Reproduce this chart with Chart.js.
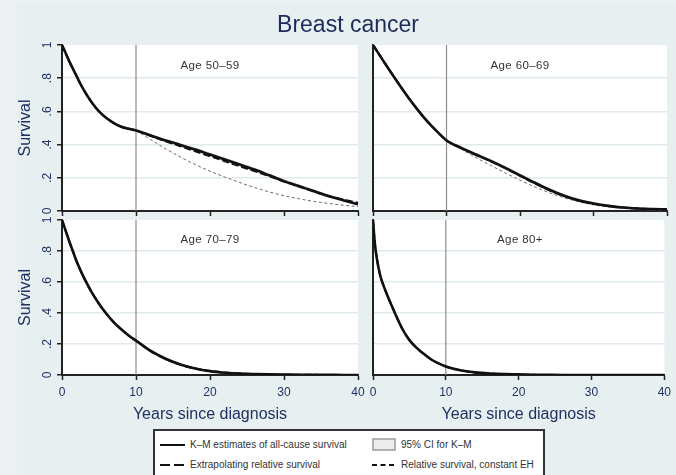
<!DOCTYPE html>
<html><head><meta charset="utf-8">
<script src="https://cdn.jsdelivr.net/npm/chart.js@4.4.1/dist/chart.umd.min.js"></script>
<style>
html,body{margin:0;padding:0;}
body{width:676px;height:475px;overflow:hidden;background:#eef1f2;position:relative;font-family:"Liberation Sans",Arial,sans-serif;}
#region{position:absolute;left:17px;top:3px;width:659px;height:472px;background:#e8eff1;}
canvas.panel{position:absolute;left:0;top:0;}
.txt{position:absolute;white-space:nowrap;z-index:5;}
#title{left:248px;width:200px;text-align:center;top:13px;font-size:23px;line-height:23px;color:#1c2b5a;}
.plab{width:120px;text-align:center;font-size:11.5px;line-height:12px;letter-spacing:0.4px;color:#333;}
#legend{position:absolute;left:153px;top:429px;width:388px;height:50px;border:2px solid #333;background:#fff;z-index:5;}
.lt{position:absolute;font-size:10px;line-height:12px;color:#333;white-space:nowrap;}
.ls{position:absolute;}
</style></head>
<body>
<div id="region"></div>
<canvas class="panel" id="p1" width="676" height="475"></canvas>
<canvas class="panel" id="p2" width="676" height="475"></canvas>
<canvas class="panel" id="p3" width="676" height="475"></canvas>
<canvas class="panel" id="p4" width="676" height="475"></canvas>
<div class="txt" id="title">Breast cancer</div>
<div class="txt plab" style="left:150px;top:59px" id="lab1"></div>
<div class="txt plab" style="left:460px;top:59px" id="lab2"></div>
<div class="txt plab" style="left:150px;top:233px" id="lab3"></div>
<div class="txt plab" style="left:460px;top:233px" id="lab4"></div>
<div id="legend">
  <svg class="ls" style="left:5px;top:8px" width="27" height="12"><line x1="0" y1="6" x2="25" y2="6" stroke="#111" stroke-width="2"/></svg>
  <div class="lt" style="left:35px;top:8px" id="lg1"></div>
  <svg class="ls" style="left:217px;top:7px" width="26" height="14"><rect x="1" y="1" width="22" height="11" fill="#ececec" stroke="#9a9a9a" stroke-width="1.5"/></svg>
  <div class="lt" style="left:246px;top:8px" id="lg2"></div>
  <svg class="ls" style="left:5px;top:28px" width="27" height="12"><line x1="0" y1="6" x2="25" y2="6" stroke="#111" stroke-width="2" stroke-dasharray="10,4"/></svg>
  <div class="lt" style="left:35px;top:28px" id="lg3"></div>
  <svg class="ls" style="left:217px;top:28px" width="26" height="12"><line x1="0" y1="6" x2="24" y2="6" stroke="#111" stroke-width="2" stroke-dasharray="5,3.5"/></svg>
  <div class="lt" style="left:246px;top:28px" id="lg4"></div>
</div>
<script>
// ---------- data ----------
const tYears = [0,0.25,0.5,1,1.5,2,2.5,3,4,5,6,7,8,9,10,12,14,16,18,20,22,24,26,28,30,32,34,36,38,40];
const panelTitles = ['Age 50\u201359','Age 60\u201369','Age 70\u201379','Age 80+'];
const legendLabels = ['K\u2013M estimates of all-cause survival','95% CI for K\u2013M','Extrapolating relative survival','Relative survival, constant EH'];
const xTickValues = [0,10,20,30,40];
const yTickValues = [0,0.2,0.4,0.6,0.8,1];
const yTickLabels = ['0','.2','.4','.6','.8','1'];
const cutoffYear = 10;

// Age 50-59
const km5059     = [1,0.975,0.95,0.90,0.855,0.81,0.765,0.725,0.655,0.60,0.56,0.53,0.508,0.495,0.485,0.455,0.425,0.398,0.37,0.34,0.31,0.28,0.25,0.215,0.18,0.15,0.12,0.09,0.065,0.04];
const ciLo5059   = [1,0.972,0.946,0.895,0.85,0.805,0.76,0.72,0.65,0.595,0.555,0.525,0.503,0.49,0.48,0.45,0.419,0.391,0.362,0.332,0.302,0.272,0.242,0.207,0.172,0.142,0.112,0.083,0.058,0.034];
const ciHi5059   = [1,0.978,0.954,0.905,0.86,0.815,0.77,0.73,0.66,0.605,0.565,0.535,0.513,0.5,0.49,0.46,0.431,0.405,0.378,0.348,0.318,0.288,0.258,0.223,0.188,0.158,0.128,0.097,0.072,0.046];
const extrap5059 = [1,0.975,0.95,0.90,0.855,0.81,0.765,0.725,0.655,0.60,0.56,0.53,0.508,0.495,0.485,0.452,0.42,0.39,0.36,0.33,0.30,0.27,0.24,0.21,0.178,0.148,0.118,0.09,0.068,0.05];
const constEH5059= [null,null,null,null,null,null,null,null,null,null,null,null,null,null,0.485,0.43,0.375,0.325,0.28,0.24,0.205,0.172,0.142,0.115,0.092,0.074,0.058,0.046,0.035,0.026];
// Age 60-69
const km6069     = [1,0.983,0.966,0.932,0.898,0.864,0.831,0.798,0.734,0.672,0.614,0.56,0.511,0.466,0.425,0.38,0.34,0.302,0.26,0.215,0.17,0.128,0.092,0.064,0.045,0.031,0.021,0.015,0.012,0.01];
const ciLo6069   = [1,0.98,0.962,0.927,0.893,0.859,0.825,0.792,0.728,0.666,0.608,0.554,0.505,0.46,0.419,0.373,0.332,0.294,0.252,0.207,0.162,0.121,0.085,0.058,0.04,0.026,0.017,0.011,0.008,0.006];
const ciHi6069   = [1,0.986,0.97,0.937,0.903,0.869,0.837,0.804,0.74,0.678,0.62,0.566,0.517,0.472,0.431,0.387,0.348,0.31,0.268,0.223,0.178,0.135,0.099,0.07,0.05,0.036,0.025,0.019,0.016,0.014];
const extrap6069 = [1,0.983,0.966,0.932,0.898,0.864,0.831,0.798,0.734,0.672,0.614,0.56,0.511,0.466,0.425,0.379,0.339,0.3,0.258,0.212,0.167,0.125,0.09,0.063,0.044,0.03,0.021,0.015,0.011,0.008];
const constEH6069= [null,null,null,null,null,null,null,null,null,null,null,null,null,null,0.425,0.372,0.322,0.275,0.229,0.186,0.145,0.11,0.08,0.056,0.037,0.025,0.016,0.01,0.006,0.004];
// Age 70-79
const km7079     = [1,0.965,0.93,0.86,0.795,0.73,0.675,0.625,0.535,0.46,0.395,0.34,0.295,0.255,0.222,0.155,0.105,0.068,0.042,0.025,0.015,0.009,0.006,0.004,0.003,0.002,0.001,0.001,0,0];
const ciLo7079   = [1,0.962,0.926,0.855,0.79,0.725,0.67,0.62,0.53,0.455,0.39,0.335,0.29,0.25,0.217,0.15,0.1,0.064,0.039,0.022,0.012,0.007,0.004,0.002,0.001,0.001,0,0,0,0];
const ciHi7079   = [1,0.968,0.934,0.865,0.8,0.735,0.68,0.63,0.54,0.465,0.4,0.345,0.3,0.26,0.227,0.16,0.11,0.072,0.045,0.028,0.018,0.011,0.008,0.006,0.005,0.003,0.002,0.002,0.001,0.001];
const extrap7079 = [1,0.965,0.93,0.86,0.795,0.73,0.675,0.625,0.535,0.46,0.395,0.34,0.295,0.255,0.222,0.153,0.103,0.067,0.042,0.026,0.016,0.01,0.006,0.004,0.002,0.001,0.001,0,0,0];
const constEH7079= [null,null,null,null,null,null,null,null,null,null,null,null,null,null,0.222,0.15,0.098,0.062,0.038,0.023,0.013,0.008,0.004,0.002,0.001,0.001,0,0,0,0];
// Age 80+
const km80       = [1,0.85,0.76,0.64,0.57,0.51,0.455,0.40,0.30,0.225,0.175,0.135,0.10,0.075,0.055,0.03,0.017,0.01,0.006,0.004,0.002,0.001,0,0,0,0,0,0,0,0];
const ciLo80     = [1,0.845,0.755,0.635,0.565,0.505,0.45,0.395,0.295,0.22,0.17,0.13,0.096,0.071,0.052,0.027,0.015,0.008,0.004,0.002,0.001,0,0,0,0,0,0,0,0,0];
const ciHi80     = [1,0.855,0.765,0.645,0.575,0.515,0.46,0.405,0.305,0.23,0.18,0.14,0.104,0.079,0.058,0.033,0.019,0.012,0.008,0.006,0.003,0.002,0.001,0.001,0,0,0,0,0,0];
const extrap80   = [1,0.85,0.76,0.64,0.57,0.51,0.455,0.40,0.30,0.225,0.175,0.135,0.10,0.075,0.055,0.03,0.016,0.009,0.005,0.003,0.001,0,0,0,0,0,0,0,0,0];
const constEH80  = [null,null,null,null,null,null,null,null,null,null,null,null,null,null,0.055,0.029,0.015,0.008,0.004,0.002,0.001,0,0,0,0,0,0,0,0,0];

// ---------- text ----------
document.getElementById('lab1').textContent = panelTitles[0];
document.getElementById('lab2').textContent = panelTitles[1];
document.getElementById('lab3').textContent = panelTitles[2];
document.getElementById('lab4').textContent = panelTitles[3];
legendLabels.forEach((s,i)=>{document.getElementById('lg'+(i+1)).textContent = s;});

// ---------- charts ----------
const W = 676, H = 475;
const FONT = '"Liberation Sans", Arial, sans-serif';
const AXIS = '#1f3162';
const GRID = '#e0e9eb';
const DARK = '#222';

const pts = arr => tYears.map((t,i)=>({x:t, y:arr[i]}));

const panelPlugin = {
  id: 'panelDeco',
  beforeDraw(chart) {
    const a = chart.chartArea, ctx = chart.ctx;
    ctx.save(); ctx.fillStyle = '#ffffff';
    ctx.fillRect(a.left, a.top, a.right - a.left, a.bottom - a.top);
    ctx.restore();
  },
  afterDraw(chart, args, opts) {
    if (!opts.yLabels) return;
    const ys = chart.scales.y, ctx = chart.ctx;
    ctx.save();
    ctx.font = '12px ' + FONT; ctx.fillStyle = AXIS;
    ctx.textAlign = 'center'; ctx.textBaseline = 'middle';
    yTickValues.forEach((v,i)=>{
      ctx.save();
      ctx.translate(ys.right - 14, ys.getPixelForValue(v));
      ctx.rotate(-Math.PI/2);
      ctx.fillText(yTickLabels[i], 0, 0);
      ctx.restore();
    });
    ctx.restore();
  }
};

function makePanel(id, s, p) {
  const base = {pointRadius:0, fill:false, cubicInterpolationMode:'monotone', spanGaps:false};
  new Chart(document.getElementById(id), {
    type: 'line',
    data: { datasets: [
      {...base, label:'cutoff', data:[{x:cutoffYear,y:0},{x:cutoffYear,y:1}], borderColor:'#8c8c8c', borderWidth:1.2, order:10},
      {...base, label:'ciLo', data:pts(s.ciLo), borderColor:'#b4b4b4', borderWidth:0.7, order:6},
      {...base, label:'ciHi', data:pts(s.ciHi), borderColor:'#b4b4b4', borderWidth:0.7, fill:'-1', backgroundColor:'#ebebeb', order:5},
      {...base, label:'constEH', data:pts(s.ceh), borderColor:'#6a6a6a', borderWidth:1, borderDash:[3,2.5], order:4},
      {...base, label:'km', data:pts(s.km), borderColor:'#111', borderWidth:2.6, order:3},
      {...base, label:'extrap', data:pts(s.ex), borderColor:'#111', borderWidth:2, borderDash:[7,3], order:2}
    ]},
    options: {
      responsive:false, animation:false, events:[],
      layout:{ autoPadding:false, padding:{left:p.l - p.yw, top:p.t, right:W - p.r, bottom:H - p.b - p.xh} },
      plugins:{ legend:{display:false}, tooltip:{enabled:false}, title:{display:false}, panelDeco:{yLabels:p.yLabels} },
      scales:{
        x:{ type:'linear', min:0, max:40,
            afterFit:sc=>{sc.height = p.xh;},
            afterBuildTicks:sc=>{sc.ticks = xTickValues.map(v=>({value:v}));},
            ticks:{display:p.xLabels, font:{size:12, family:FONT}, color:AXIS, padding:5, autoSkip:false, maxRotation:0},
            grid:{drawOnChartArea:false, drawTicks:true, tickLength:5, tickColor:DARK, tickWidth:1.5},
            border:{display:true, color:DARK, width:2},
            title:{display:p.xLabels, text:'Years since diagnosis', color:AXIS, font:{size:16, family:FONT}, padding:{top:0, bottom:1}} },
        y:{ type:'linear', min:0, max:1,
            afterFit:sc=>{sc.width = p.yw;},
            afterBuildTicks:sc=>{sc.ticks = yTickValues.map(v=>({value:v}));},
            ticks:{display:false},
            grid:{color:c=>(c.tick && (c.tick.value===0 || c.tick.value===1)) ? 'rgba(0,0,0,0)' : GRID,
                  lineWidth:1.5, drawTicks:p.yLabels, tickLength:5, tickColor:DARK, tickWidth:1.5},
            border:{display:true, color:DARK, width:2},
            title:{display:p.yLabels, text:'Survival', color:AXIS, font:{size:16, family:FONT}, padding:{top:16, bottom:0}} }
      }
    },
    plugins:[panelPlugin]
  });
}

makePanel('p1', {km:km5059, ciLo:ciLo5059, ciHi:ciHi5059, ex:extrap5059, ceh:constEH5059},
          {l:62, r:358, t:45, b:211, yw:62, xh:10, yLabels:true, xLabels:false});
makePanel('p2', {km:km6069, ciLo:ciLo6069, ciHi:ciHi6069, ex:extrap6069, ceh:constEH6069},
          {l:373, r:667, t:45, b:211, yw:10, xh:10, yLabels:false, xLabels:false});
makePanel('p3', {km:km7079, ciLo:ciLo7079, ciHi:ciHi7079, ex:extrap7079, ceh:constEH7079},
          {l:62, r:358, t:220, b:375, yw:62, xh:50, yLabels:true, xLabels:true});
makePanel('p4', {km:km80, ciLo:ciLo80, ciHi:ciHi80, ex:extrap80, ceh:constEH80},
          {l:373, r:667, t:220, b:375, yw:10, xh:50, yLabels:false, xLabels:true});
</script>
</body></html>
